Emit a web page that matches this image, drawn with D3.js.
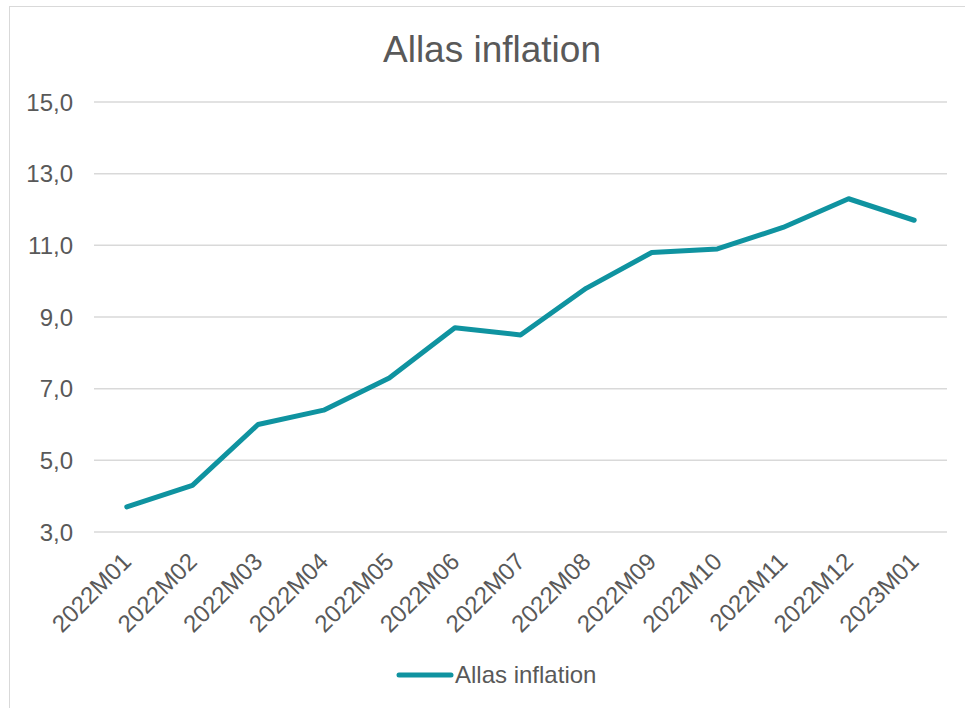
<!DOCTYPE html>
<html><head><meta charset="utf-8">
<script src="https://cdn.jsdelivr.net/npm/d3@7"></script>
<style>body{margin:0;background:#fff;} svg{display:block;font-family:"Liberation Sans",Arial,sans-serif;}</style>
</head><body>
<svg id="c" width="965" height="708"></svg>
<script>
const categories = ["2022M01","2022M02","2022M03","2022M04","2022M05","2022M06","2022M07","2022M08","2022M09","2022M10","2022M11","2022M12","2023M01"];
const values = [3.7,4.3,6.0,6.4,7.3,8.7,8.5,9.8,10.8,10.9,11.5,12.3,11.7];
const yTicks = [3,5,7,9,11,13,15];
const seriesName = "Allas inflation";
const title = "Allas inflation";

(function(){
const svg = d3.select("#c");
const color = "#0f93a0", textColor = "#595959";
svg.append("rect").attr("x",9.5).attr("y",6.5).attr("width",1000).attr("height",760)
  .attr("fill","#fff").attr("stroke","#d9d9d9").attr("stroke-width",1);

const pLeft = 94, pRight = 947, pTop = 102, pBottom = 532;
const x = d3.scaleBand().domain(categories).range([pLeft,pRight]);
const y = d3.scaleLinear().domain([3,15]).range([pBottom,pTop]);

svg.append("text").attr("x",492).attr("y",62).attr("text-anchor","middle")
  .attr("font-size",37).attr("fill",textColor).text(title);

const grid = svg.append("g");
yTicks.forEach(t=>{
  grid.append("line").attr("x1",pLeft).attr("x2",pRight).attr("y1",y(t)).attr("y2",y(t))
    .attr("stroke","#d9d9d9").attr("stroke-width",1.5);
  grid.append("text").attr("x",73).attr("y",y(t)).attr("dy","0.36em").attr("text-anchor","end")
    .attr("font-size",24).attr("fill",textColor).text(d3.format(".1f")(t).replace(".",","));
});

categories.forEach(c=>{
  const cx = x(c)+x.bandwidth()/2 + 6;
  svg.append("text").attr("transform",`translate(${cx},563) rotate(-45)`)
    .attr("text-anchor","end").attr("font-size",24).attr("fill",textColor).text(c);
});

const line = d3.line().x((d,i)=>x(categories[i])+x.bandwidth()/2).y(d=>y(d));
svg.append("path").datum(values).attr("d",line).attr("fill","none").attr("stroke",color)
  .attr("stroke-width",5).attr("stroke-linejoin","round").attr("stroke-linecap","round");

svg.append("line").attr("x1",399).attr("x2",451).attr("y1",675).attr("y2",675)
  .attr("stroke",color).attr("stroke-width",5).attr("stroke-linecap","round");
svg.append("text").attr("x",455).attr("y",675).attr("dy","0.35em").attr("font-size",24)
  .attr("fill",textColor).text(seriesName);
})();
</script>
</body></html>
